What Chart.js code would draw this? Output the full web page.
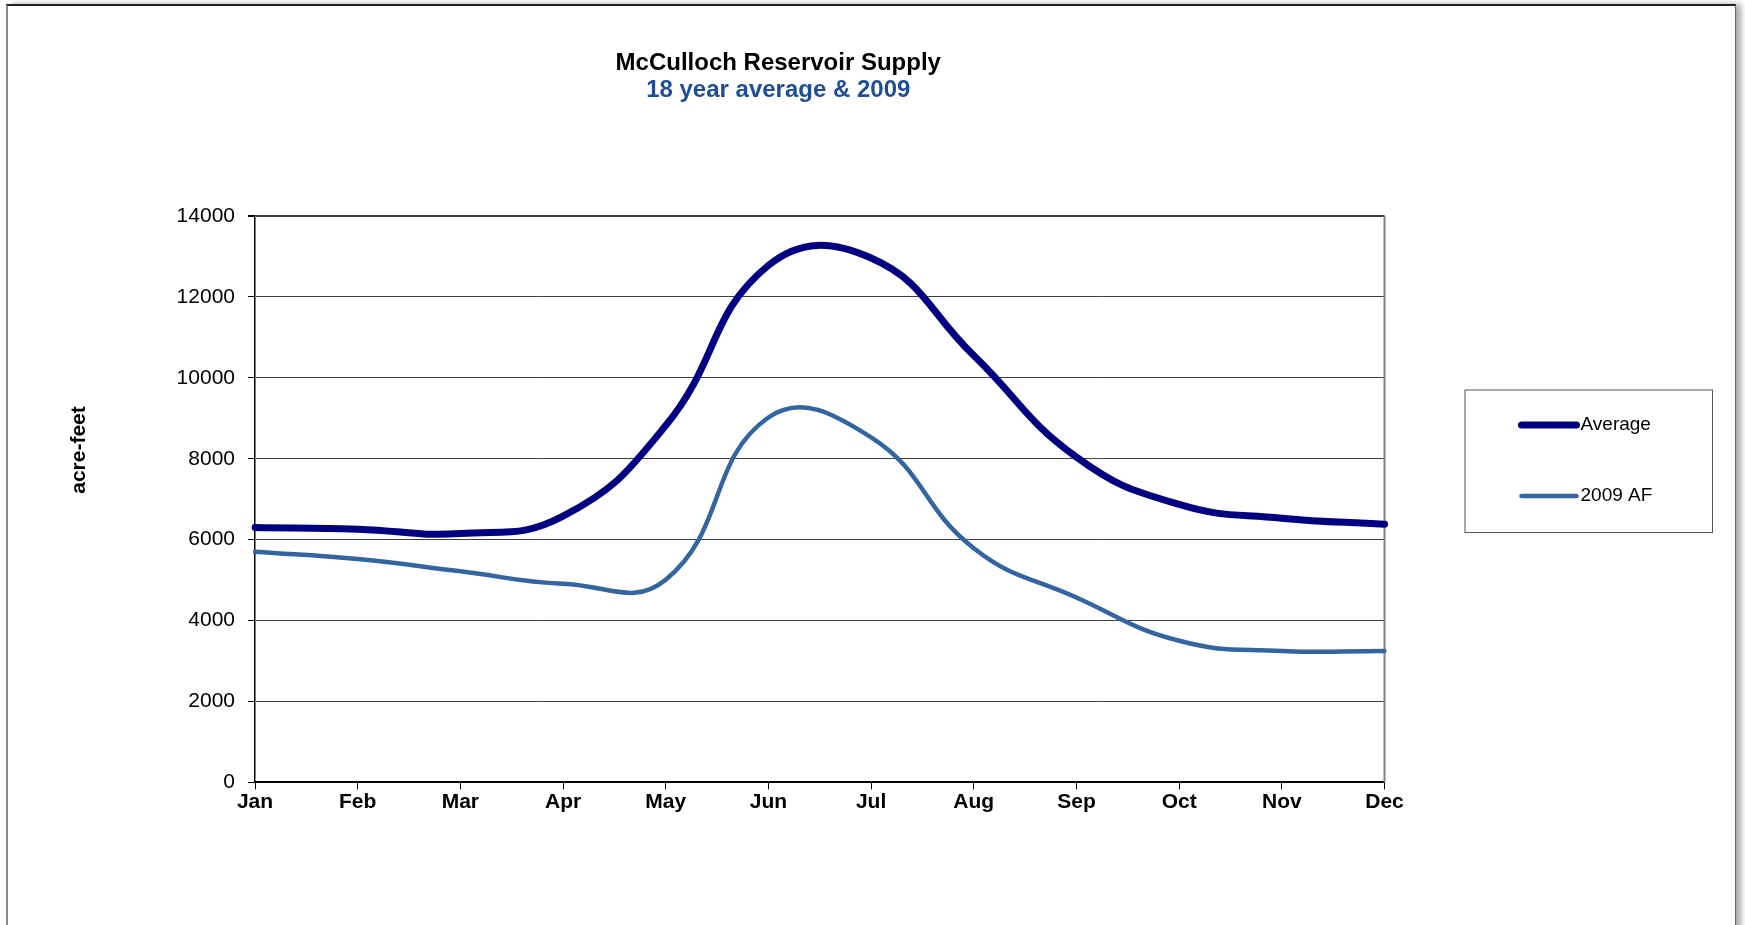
<!DOCTYPE html>
<html>
<head>
<meta charset="utf-8">
<title>McCulloch Reservoir Supply</title>
<script src="https://cdn.jsdelivr.net/npm/chart.js@4.4.1/dist/chart.umd.min.js"></script>
<style>
    html, body { margin: 0; padding: 0; background: #fff; }
    body { width: 1745px; height: 925px; overflow: hidden; position: relative; }
    .frame {
        position: absolute; left: 6px; top: 4px; width: 1727px; height: 960px;
        border-top: 2px solid #222; border-left: 2px solid #8a8a8a; border-right: 1px solid #666;
        box-shadow: 5px 0 6px rgba(0,0,0,.35); background: #fff;
    }
    #chart { position: absolute; left: 0; top: 0; }
</style>
</head>
<body>
<div class="frame"></div>
<canvas id="chart" width="1745" height="925"></canvas>
<script>
/* ================================================================
   McCulloch Reservoir Supply · Chart.js
   ================================================================ */

const months     = ['Jan', 'Feb', 'Mar', 'Apr', 'May', 'Jun', 'Jul', 'Aug', 'Sep', 'Oct', 'Nov', 'Dec'];
const avgSupply  = [6300, 6260, 6150, 6580, 8820, 12780, 12960, 10550, 8040, 6870, 6530, 6380];
const supply2009 = [5700, 5520, 5220, 4910, 5010,  9020,  8530,  5790, 4570, 3500, 3250, 3250];
const seriesNames = ['Average', '2009 AF'];
const yMin = 0, yMax = 14000, yStep = 2000;

const C = {
    navy:   '#000080',
    steel:  '#3366a0',
    grid:   '#404040',
    axis:   '#000000',
    text:   '#000000',
    sub:    '#1f4e96',
    box:    '#555555',
    edge:   '#808080',
};

Chart.defaults.font.family = "'Liberation Sans', Arial, sans-serif";
Chart.defaults.color       = C.text;

/* ── extras: plot right edge, y title, boxed legend ───────────── */
const excelBits = {
    id: 'excelBits',
    beforeDatasetsDraw(chart) {
        const { ctx, chartArea: a } = chart;
        ctx.save();
        ctx.strokeStyle = C.edge;
        ctx.lineWidth = 2;
        ctx.beginPath();
        ctx.moveTo(a.right, a.top);
        ctx.lineTo(a.right, a.bottom);
        ctx.stroke();
        ctx.restore();
    },
    afterDraw(chart) {
        const { ctx, chartArea: a } = chart;
        ctx.save();

        // y axis title
        ctx.translate(a.left - 176, a.top + 234);
        ctx.rotate(-Math.PI / 2);
        ctx.font = "bold 21px 'Liberation Sans', Arial, sans-serif";
        ctx.fillStyle = C.text;
        ctx.textAlign = 'center';
        ctx.textBaseline = 'middle';
        ctx.fillText('acre-feet', 0, 0);
        ctx.setTransform(1, 0, 0, 1, 0, 0);

        // legend
        const bx = a.right + 80, by = a.top + 173.5, bw = 247.5, bh = 142.5;
        ctx.strokeStyle = C.box;
        ctx.lineWidth = 1;
        ctx.strokeRect(bx + 0.5, by + 0.5, bw, bh);
        ctx.font = "19px 'Liberation Sans', Arial, sans-serif";
        ctx.textAlign = 'left';
        ctx.textBaseline = 'middle';
        ctx.lineCap = 'round';
        chart.data.datasets.forEach((ds, i) => {
            const y = by + 35.5 + i * 71;
            ctx.strokeStyle = ds.borderColor;
            ctx.lineWidth = ds.borderWidth;
            ctx.beginPath();
            ctx.moveTo(bx + 57, y);
            ctx.lineTo(bx + 112, y);
            ctx.stroke();
            ctx.fillStyle = C.text;
            ctx.fillText(ds.label, bx + 116, y);
        });
        ctx.restore();
    }
};

(function() {
    const ctx = document.getElementById('chart').getContext('2d');

    new Chart(ctx, {
        type: 'line',
        data: {
            labels: months,
            datasets: [
                {
                    label: seriesNames[0],
                    data: avgSupply,
                    borderColor: C.navy,
                    borderWidth: 7,
                    pointRadius: 0,
                    tension: 0.45,
                    borderCapStyle: 'round',
                    borderJoinStyle: 'round',
                    fill: false,
                },
                {
                    label: seriesNames[1],
                    data: supply2009,
                    borderColor: C.steel,
                    borderWidth: 4.5,
                    pointRadius: 0,
                    tension: 0.45,
                    borderCapStyle: 'round',
                    borderJoinStyle: 'round',
                    fill: false,
                },
            ]
        },
        options: {
            responsive: false,
            animation: false,
            devicePixelRatio: 1,
            layout: { padding: { left: 172, right: 360.5, top: 0, bottom: 112.6 } },
            plugins: {
                legend: { display: false },
                tooltip: { enabled: false },
                title: {
                    display: true,
                    text: 'McCulloch Reservoir Supply',
                    color: C.text,
                    font: { size: 24, weight: 'bold', lineHeight: 1.1 },
                    padding: { top: 50.5, bottom: 0 },
                },
                subtitle: {
                    display: true,
                    text: '18 year average & 2009',
                    color: C.sub,
                    font: { size: 24, weight: 'bold', lineHeight: 1.1 },
                    padding: { top: 0, bottom: 112.7 },
                },
            },
            scales: {
                x: {
                    offset: false,
                    grid: { drawOnChartArea: false, tickLength: 7, tickColor: C.axis },
                    border: { display: true, color: C.axis, width: 2 },
                    ticks: { color: C.text, font: { size: 21, weight: 'bold' }, padding: 0, maxRotation: 0, autoSkip: false },
                    afterFit: s => { s.height = 30; },
                },
                y: {
                    min: yMin, max: yMax,
                    grid: {
                        color: C.grid,
                        lineWidth: c => (c.tick && c.tick.value === yMax ? 2 : 1),
                        tickLength: 7,
                        tickColor: C.axis,
                    },
                    border: { display: true, color: C.axis, width: 1.5 },
                    ticks: { stepSize: yStep, color: C.text, font: { size: 21 }, padding: 13, callback: v => String(v) },
                    afterFit: s => { s.width = 83; },
                },
            }
        },
        plugins: [excelBits],
    });
})();
</script>
</body>
</html>
